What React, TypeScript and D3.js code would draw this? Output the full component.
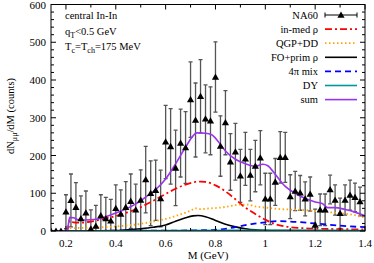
import React from 'react';
import * as d3 from 'd3';

const width = 374;
const height = 263;
const left = 51;
const right = 365;
const top = 4.5;
const bottom = 231;
const font = 'Liberation Serif, Times New Roman, Times, DejaVu Serif, serif';

// NA60 central In-In, qT < 0.5 GeV
const massBins = [
  0.14, 0.16, 0.18, 0.2, 0.22, 0.24, 0.26, 0.28, 0.3, 0.32, 0.34, 0.36, 0.38, 0.4, 0.42, 0.44,
  0.46, 0.48, 0.5, 0.52, 0.54, 0.56, 0.58, 0.6, 0.62, 0.64, 0.66, 0.68, 0.7, 0.72, 0.74, 0.76,
  0.78, 0.8, 0.82, 0.84, 0.86, 0.88, 0.9, 0.92, 0.94, 0.96, 0.98, 1.0, 1.02, 1.04, 1.06, 1.08,
  1.1, 1.12, 1.14, 1.16, 1.18, 1.2, 1.22, 1.24, 1.26, 1.28, 1.3, 1.32, 1.34, 1.36, 1.38,
];
const na60Counts = [
  0, 0, 0, 51, 81, 63, 33, 48, 6, 13, 41, 33, 27, 60, 45, 63,
  79, 56, 82, 136, 100, 108, 86, 236, 224, 167, 233, 221, 348, 294, 357, 297,
  292, 408, 225, 287, 183, 210, 146, 191, 148, 172, 194, 85, 85, 130, 195, 195,
  91, 106, 101, 85, 98, 16, 56, 56, 110, 82, 47, 82, 95, 89, 78,
];
const na60Errors = [
  0, 0, 0, 45, 70, 65, 60, 58, 50, 55, 55, 56, 57, 62, 64, 68,
  72, 68, 80, 88, 86, 80, 75, 97, 100, 100, 90, 95, 100, 98, 97, 90,
  90, 93, 80, 85, 75, 75, 70, 70, 68, 68, 72, 68, 68, 62, 68, 66,
  58, 52, 46, 45, 45, 42, 42, 42, 38, 40, 40, 40, 40, 38, 38,
];

// model curves: [M (GeV), dN/dM]
const inMedRho: [number, number][] = [
  [0.14, 0], [0.205, 0], [0.215, 28], [0.23, 23], [0.26, 22], [0.3, 25], [0.35, 32], [0.4, 40],
  [0.45, 50], [0.5, 63], [0.55, 80], [0.6, 98], [0.64, 112], [0.68, 123], [0.72, 130], [0.74, 131],
  [0.76, 130], [0.8, 121], [0.84, 105], [0.88, 84], [0.92, 62], [0.96, 45], [1.0, 30], [1.04, 18],
  [1.08, 12], [1.14, 8], [1.2, 6], [1.3, 5], [1.4, 4],
];
const qgpDD: [number, number][] = [
  [0.14, 0], [0.2, 0], [0.21, 7], [0.25, 8], [0.3, 9], [0.35, 10], [0.4, 12], [0.45, 15],
  [0.5, 19], [0.55, 25], [0.6, 32], [0.65, 42], [0.7, 54], [0.72, 60], [0.74, 58], [0.78, 60],
  [0.82, 62], [0.86, 66], [0.9, 70], [0.93, 70], [0.96, 65], [1.0, 62], [1.06, 58], [1.14, 56],
  [1.22, 52], [1.3, 47], [1.36, 42], [1.4, 35],
];
const foPrimRho: [number, number][] = [
  [0.14, 0], [0.3, 0], [0.4, 1], [0.45, 3], [0.5, 6], [0.55, 10], [0.6, 16], [0.64, 26],
  [0.68, 35], [0.71, 40], [0.73, 41], [0.76, 38], [0.8, 28], [0.84, 18], [0.88, 11], [0.92, 6],
  [0.96, 3], [1.0, 2], [1.1, 1], [1.4, 0.5],
];
const mix4pi: [number, number][] = [
  [0.14, 0], [0.3, 0.5], [0.6, 1], [0.75, 2], [0.82, 4], [0.86, 8], [0.9, 13], [0.95, 19],
  [1.0, 23], [1.05, 26], [1.1, 25], [1.2, 20], [1.3, 14], [1.4, 10],
];
const drellYan: [number, number][] = [
  [0.14, 0], [0.2, 0], [0.4, 0.5], [0.7, 1.5], [0.9, 2], [1.1, 2], [1.4, 1.5],
];
const sumCurve: [number, number][] = [
  [0.14, 0], [0.205, 0], [0.215, 36], [0.23, 35], [0.25, 30], [0.28, 29], [0.32, 31], [0.36, 38],
  [0.4, 48], [0.44, 58], [0.48, 72], [0.52, 90], [0.56, 110], [0.6, 138], [0.64, 178], [0.68, 222],
  [0.71, 252], [0.725, 260], [0.76, 259], [0.785, 255], [0.81, 238], [0.84, 212], [0.88, 190],
  [0.92, 178], [0.96, 171], [0.99, 177], [1.01, 173], [1.04, 150], [1.08, 118], [1.12, 100],
  [1.16, 86], [1.2, 77], [1.23, 72], [1.25, 62], [1.28, 62], [1.32, 57], [1.36, 50], [1.4, 40],
];

const xTicks = [0.2, 0.4, 0.6, 0.8, 1.0, 1.2, 1.4];
const xMinorTicks = [0.3, 0.5, 0.7, 0.9, 1.1, 1.3];
const yTicks = [0, 100, 200, 300, 400, 500, 600];

const series = [
  { label: 'in-med \u03c1', data: inMedRho, color: '#ff0000', dash: '7,3,2,3', w: 1.8 },
  { label: 'QGP+DD', data: qgpDD, color: '#ffa500', dash: '1.5,2.5', w: 1.8 },
  { label: 'FO+prim \u03c1', data: foPrimRho, color: '#000000', dash: null, w: 1.6 },
  { label: '4\u03c0 mix', data: mix4pi, color: '#0000ff', dash: '6,4', w: 1.8 },
  { label: 'DY', data: drellYan, color: '#009999', dash: null, w: 1.6 },
  { label: 'sum', data: sumCurve, color: '#9933ee', dash: null, w: 1.6 },
];

const x = d3.scaleLinear().domain([0.14, 1.4]).range([left, right]);
const y = d3.scaleLinear().domain([0, 600]).range([bottom, top]);
const lineGen = d3.line<[number, number]>()
  .x(d => x(d[0]))
  .y(d => y(d[1]))
  .curve(d3.curveMonotoneX);

const tri = (cx: number, cy: number, s = 3.6) =>
  `M${cx},${cy - s}L${cx + s},${cy + s * 0.75}L${cx - s},${cy + s * 0.75}Z`;

export default function App() {
  const yMinor = d3.range(0, 601, 20).filter(v => v % 100 !== 0);
  const legendX0 = 325;
  const legendX1 = 357;
  const legendY = (i: number) => 15 + i * 14.1;

  return (
    <svg width={width} height={height}
      style={{ position: 'absolute', left: 0, top: 0, background: '#fff' }}>
      <defs>
        <clipPath id="plot">
          <rect x={left} y={top} width={right - left} height={bottom - top} />
        </clipPath>
      </defs>

      {/* data */}
      <g clipPath="url(#plot)">
        {massBins.map((m, i) => {
          const e = na60Errors[i];
          if (!e) return null;
          const v = na60Counts[i];
          const cx = x(m);
          return (
            <g key={'e' + i} stroke="#555" strokeWidth={1.3}>
              <line x1={cx} x2={cx} y1={y(v + e)} y2={y(Math.max(v - e, 0))} />
              <line x1={cx - 2} x2={cx + 2} y1={y(v + e)} y2={y(v + e)} />
              <line x1={cx - 2} x2={cx + 2} y1={y(v - e)} y2={y(v - e)} />
            </g>
          );
        })}
        {series.map(s => (
          <path key={s.label} d={lineGen(s.data) || ''} fill="none" stroke={s.color}
            strokeWidth={s.w} strokeDasharray={s.dash || undefined} />
        ))}
        {massBins.map((m, i) => (
          <path key={'p' + i} d={tri(x(m), y(na60Counts[i]))} fill="#000" />
        ))}
      </g>

      {/* frame and ticks */}
      <rect x={left} y={top} width={right - left} height={bottom - top} fill="none" stroke="#000" strokeWidth={1} />
      <g stroke="#000" strokeWidth={1}>
        {xTicks.map(t => (
          <g key={'xt' + t}>
            <line x1={x(t)} x2={x(t)} y1={bottom} y2={bottom - 5} />
            <line x1={x(t)} x2={x(t)} y1={top} y2={top + 5} />
          </g>
        ))}
        {xMinorTicks.map(t => (
          <g key={'xm' + t}>
            <line x1={x(t)} x2={x(t)} y1={bottom} y2={bottom - 3} />
            <line x1={x(t)} x2={x(t)} y1={top} y2={top + 3} />
          </g>
        ))}
        {yTicks.map(t => (
          <g key={'yt' + t}>
            <line x1={left} x2={left + 5} y1={y(t)} y2={y(t)} />
            <line x1={right} x2={right - 5} y1={y(t)} y2={y(t)} />
          </g>
        ))}
        {yMinor.map(t => (
          <g key={'ym' + t}>
            <line x1={left} x2={left + 3} y1={y(t)} y2={y(t)} />
            <line x1={right} x2={right - 3} y1={y(t)} y2={y(t)} />
          </g>
        ))}
      </g>
      <g fontSize={11} fill="#000" fontFamily={font}>
        {xTicks.map(t => (
          <text key={'xl' + t} x={x(t)} y={bottom + 16} textAnchor="middle" fontFamily={font}>{d3.format('~g')(t)}</text>
        ))}
        {yTicks.map(t => (
          <text key={'yl' + t} x={left - 5} y={y(t) + 4} textAnchor="end" fontFamily={font}>{t}</text>
        ))}
      </g>

      {/* axis titles */}
      <text x={208} y={259} fontSize={11} textAnchor="middle" fontFamily={font}>M (GeV)</text>
      <text transform="translate(14,116) rotate(-90)" fontSize={10.5} textAnchor="middle" fontFamily={font}>
        dN<tspan fontSize={8} dy={3}>{'\u03bc\u03bc'}</tspan><tspan dy={-3}>/dM (counts)</tspan>
      </text>

      {/* annotation */}
      <g fontSize={10.5} fontFamily={font}>
        <text x={65} y={19} fontFamily={font}>central In-In</text>
        <text x={65} y={35} fontFamily={font}>q<tspan fontSize={8} dy={3}>T</tspan><tspan dy={-3}>{'<0.5 GeV'}</tspan></text>
        <text x={65} y={50} fontFamily={font}>T<tspan fontSize={8} dy={3}>c</tspan><tspan dy={-3}>=T</tspan><tspan fontSize={8} dy={3}>ch</tspan><tspan dy={-3}>=175 MeV</tspan></text>
      </g>

      {/* legend */}
      <g fontSize={10.5} fontFamily={font}>
        <text x={318} y={legendY(0) + 3.5} textAnchor="end" fontFamily={font}>NA60</text>
        <g stroke="#000" strokeWidth={1}>
          <line x1={legendX0} x2={legendX1} y1={legendY(0)} y2={legendY(0)} />
          <line x1={legendX0} x2={legendX0} y1={legendY(0) - 2.5} y2={legendY(0) + 2.5} />
          <line x1={legendX1} x2={legendX1} y1={legendY(0) - 2.5} y2={legendY(0) + 2.5} />
        </g>
        <path d={tri((legendX0 + legendX1) / 2, legendY(0))} fill="#000" />
        {series.map((s, i) => (
          <g key={'lg' + s.label}>
            <text x={318} y={legendY(i + 1) + 3.5} textAnchor="end" fontFamily={font}>{s.label}</text>
            <line x1={legendX0} x2={legendX1} y1={legendY(i + 1)} y2={legendY(i + 1)} stroke={s.color}
              strokeWidth={s.w} strokeDasharray={s.dash || undefined} />
          </g>
        ))}
      </g>
    </svg>
  );
}
